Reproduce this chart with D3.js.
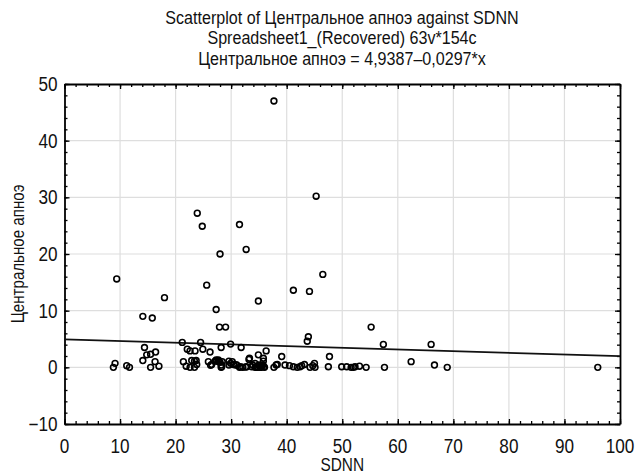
<!DOCTYPE html>
<html>
<head>
<meta charset="utf-8">
<script src="https://cdn.jsdelivr.net/npm/d3@7"></script>
<style>
html,body{margin:0;padding:0;background:#fff;}
text{font-family:"Liberation Sans",Arial,sans-serif;fill:#111;}
</style>
</head>
<body>
<svg id="chart" width="635" height="476"></svg>
<script>
// ---- data ----
const titleLines = [
  "Scatterplot of Центральное апноэ against SDNN",
  "Spreadsheet1_(Recovered) 63v*154c",
  "Центральное апноэ = 4,9387\u20130,0297*x"
];
const xLabel = "SDNN";
const yLabel = "Центральное апноэ";
const xTicks = [0,10,20,30,40,50,60,70,80,90,100];
const yTicks = [-10,0,10,20,30,40,50];
const regIntercept = 4.9387;
const regSlope = -0.0297;

const sdnn = [
  37.7,45.3,23.9,24.8,31.5,28.0,32.7,9.4,46.5,25.6,41.2,44.1,18.0,34.9,27.3,14.1,15.8,27.9,29.0,55.2,43.9,43.7,57.4,66.0,
  14.4,14.8,15.5,16.4,14.1,16.3,21.2,22.1,22.6,23.5,24.5,24.9,26.2,28.2,29.9,31.8,33.3,34.9,36.3,35.8,39.1,47.7,62.4,
  21.4,22.9,23.4,23.7,25.9,27.1,27.4,27.8,28.4,29.6,30.2,33.2,35.8,27.3,27.7,26.5,28.0,29.9,34.3,45.0,
  8.8,9.1,11.2,11.7,15.5,17.0,21.9,22.6,23.4,23.8,26.3,28.2,28.2,28.3,29.6,30.5,30.4,30.9,31.0,31.5,31.7,32.1,32.6,32.8,
  33.7,33.9,34.3,34.6,34.6,35.0,35.1,35.4,35.7,34.8,35.2,35.5,35.9,36.0,37.7,38.1,38.3,39.7,40.5,41.2,41.9,42.4,42.7,
  43.2,44.2,44.7,45.1,47.5,49.9,50.8,51.6,52.0,52.3,53.1,54.3,57.6,66.6,68.9,96.0
];
const apnea = [
  47.0,30.2,27.2,24.9,25.2,20.0,20.8,15.6,16.4,14.5,13.6,13.4,12.3,11.7,10.2,9.0,8.7,7.1,7.1,7.1,5.4,4.6,4.05,4.05,
  3.5,2.2,2.3,2.7,1.2,1.0,4.4,3.2,2.9,2.9,4.4,3.2,2.7,3.5,4.1,3.5,1.6,2.2,2.9,1.6,1.9,1.9,1.0,
  1.0,1.2,1.1,1.2,1.0,1.1,1.1,1.0,1.0,1.1,1.0,1.4,1.1,1.3,1.3,0.5,0.9,0.7,0.7,0.7,
  0.0,0.7,0.3,0.0,0.0,0.2,0.2,0.0,0.0,0.5,0.35,0.4,0.0,0.1,0.4,0.5,0.5,0.4,0.4,0.0,0.1,0.0,0.05,0.1,
  0.1,0.4,0.0,0.0,0.1,0.4,0.3,0.0,0.4,0.0,0.0,0.2,0.1,0.0,0.0,0.4,0.5,0.4,0.3,0.1,0.0,0.1,0.3,
  0.5,0.0,0.3,0.0,0.1,0.1,0.1,0.0,0.0,0.1,0.2,0.0,0.0,0.4,0.0,0.0
];

// ---- layout ----
const svg = d3.select("#chart");
const L = 64.5, R = 620, T = 84, B = 424;
const x = d3.scaleLinear().domain([0,100]).range([L,R]);
const y = d3.scaleLinear().domain([-10,50]).range([B,T]);

function narrowText(parent, data, tx, ty, anchor, size, sx, fmt, rot){
  return parent.selectAll(null).data(data).join("g")
    .attr("transform",(d,i)=>`translate(${tx(d,i)},${ty(d,i)})${rot?` rotate(${rot})`:""} scale(${sx},1)`)
    .append("text").attr("text-anchor",anchor).attr("font-size",size).text(fmt);
}

// title
narrowText(svg, titleLines, ()=>342, (d,i)=>23.5+i*20.5, "middle", 18.5, 0.87, d=>d);

// grid
const g = svg.append("g");
g.selectAll("line.gx").data(xTicks.slice(1,-1)).join("line")
  .attr("x1",d=>x(d)).attr("x2",d=>x(d)).attr("y1",T).attr("y2",B)
  .attr("stroke","#dedede").attr("stroke-width",1.2);
g.selectAll("line.gy").data(yTicks.slice(1,-1)).join("line")
  .attr("y1",d=>y(d)).attr("y2",d=>y(d)).attr("x1",L).attr("x2",R)
  .attr("stroke","#dedede").attr("stroke-width",1.2);

// axes (ticks inward on all sides)
const xMinor = d3.range(0,101,2);
const yMinor = d3.range(-10,51,2);
function styleAxis(sel){
  sel.selectAll("path").attr("stroke","#000").attr("stroke-width",1.8);
  sel.selectAll("line").attr("stroke","#000").attr("stroke-width",1.3);
}
const ax = [
  [d3.axisBottom(x), xMinor, xTicks, `translate(0,${B})`],
  [d3.axisTop(x), xMinor, xTicks, `translate(0,${T})`],
  [d3.axisLeft(y), yMinor, yTicks, `translate(${L},0)`],
  [d3.axisRight(y), yMinor, yTicks, `translate(${R},0)`]
];
ax.forEach(([a, minor, major, tr])=>{
  svg.append("g").attr("transform",tr)
    .call(a.tickValues(minor).tickSize(-3).tickSizeOuter(0).tickFormat(""))
    .call(styleAxis);
  svg.append("g").attr("transform",tr)
    .call(a.tickValues(major).tickSize(-5).tickSizeOuter(0).tickFormat(""))
    .call(s=>s.select("path").remove())
    .call(styleAxis);
});

// tick labels
const fmtY = d=>d<0?"\u2212"+Math.abs(d):String(d);
narrowText(svg, xTicks, d=>x(d), ()=>452.5, "middle", 19.5, 0.88, d=>String(d));
narrowText(svg, yTicks, ()=>L-7, d=>y(d)+7, "end", 19.5, 0.88, fmtY);

// regression line
const line = d3.line().x(d=>x(d)).y(d=>y(regIntercept+regSlope*d));
svg.append("path").datum([0,100]).attr("d",line)
  .attr("fill","none").attr("stroke","#111").attr("stroke-width",1.8);

// points
svg.append("g").selectAll("circle").data(sdnn.map((d,i)=>[d,apnea[i]])).join("circle")
  .attr("cx",d=>x(d[0])).attr("cy",d=>y(d[1])).attr("r",2.9)
  .attr("fill","none").attr("stroke","#000").attr("stroke-width",1.6);

// axis labels
narrowText(svg, [xLabel], ()=>(L+R)/2, ()=>471, "middle", 17.5, 0.88, d=>d);
narrowText(svg, [yLabel], ()=>24, ()=>(T+B)/2, "middle", 18, 0.84, d=>d, -90);
</script>
</body>
</html>
